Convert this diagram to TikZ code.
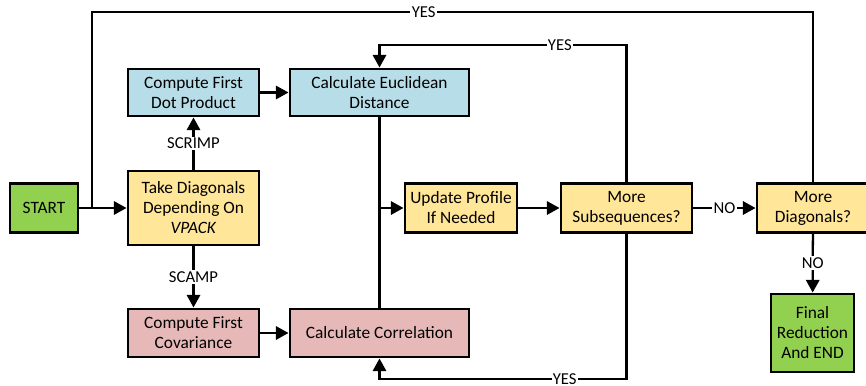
\documentclass[tikz,border=0pt]{standalone}
\usepackage{fontspec}
\setmainfont{Carlito}
\usetikzlibrary{arrows.meta}
\definecolor{dotblue}{HTML}{B7DDE8}
\definecolor{stepyellow}{HTML}{FFE699}
\definecolor{covpink}{HTML}{E6B9B8}
\definecolor{endgreen}{HTML}{92D050}

\begin{document}
\begin{tikzpicture}[x=0.75pt, y=-0.75pt,
  box/.style = {shape=rectangle, draw, line width=2.2pt, align=center,
    inner sep=0pt, font=\fontsize{13}{15}\selectfont},
  link/.style = {line width=1.7pt, -{Triangle[length=9.5pt,width=10pt]}},
  wire/.style = {line width=1.7pt},
  lbl/.style = {fill=white, inner sep=1pt, font=\fontsize{12.5}{15}\selectfont}]
  \clip (0,0) rectangle (866,385);
  \node[box, fill=endgreen, minimum width=51pt, minimum height=36.75pt] (start) at (44,208) {START};
  \node[box, fill=stepyellow, minimum width=98.25pt, minimum height=55.5pt] (take) at (193.5,208) {Take Diagonals\\Depending On\\\textit{VPACK}};
  \node[box, fill=dotblue, minimum width=98.25pt, minimum height=35.25pt] (dot) at (193.5,92.5) {Compute First\\Dot Product};
  \node[box, fill=dotblue, minimum width=134.25pt, minimum height=35.25pt] (eucl) at (379.5,92.5) {Calculate Euclidean\\Distance};
  \node[box, fill=covpink, minimum width=98.25pt, minimum height=36pt] (cov) at (193.5,333) {Compute First\\Covariance};
  \node[box, fill=covpink, minimum width=134.25pt, minimum height=36pt] (corr) at (379.5,333) {Calculate Correlation};
  \node[box, fill=stepyellow, minimum width=84pt, minimum height=36.75pt] (upd) at (461,208) {Update Profile\\If Needed};
  \node[box, fill=stepyellow, minimum width=98.25pt, minimum height=36.75pt] (subs) at (626.5,208) {More\\Subsequences?};
  \node[box, fill=stepyellow, minimum width=84pt, minimum height=36.75pt] (diag) at (813,208) {More\\Diagonals?};
  \node[box, fill=endgreen, minimum width=62.25pt, minimum height=58.5pt] (final) at (812.5,333) {Final\\Reduction\\And END};

  \coordinate (split) at (92,208);
  \coordinate (topleft) at (92,12);
  \coordinate (topright) at (813,12);
  \coordinate (merge) at (379.5,208);
  \coordinate (upright) at (626.5,45);
  \coordinate (upleft) at (379.5,45);
  \coordinate (downright) at (626.5,379);
  \coordinate (downleft) at (379.5,379);

  \draw[link] (start) -- (take);
  \draw[wire] (split) -- (topleft) -- node[lbl, pos=0.46] {YES} (topright) -- (diag.north);
  \draw[link] (take) -- node[lbl] {SCRIMP} (dot);
  \draw[link] (take) -- node[lbl] {SCAMP} (cov);
  \draw[link] (dot) -- (eucl);
  \draw[link] (cov) -- (corr);
  \draw[wire] (eucl) -- (corr);
  \draw[link] (merge) -- (upd);
  \draw[link] (upd) -- (subs);
  \draw[link] (subs.north) -- (upright) -- node[lbl, pos=0.27] {YES} (upleft) -- (eucl.north);
  \draw[link] (subs.south) -- (downright) -- node[lbl, pos=0.25] {YES} (downleft) -- (corr.south);
  \draw[link] (subs) -- node[lbl] {NO} (diag);
  \draw[link] (diag) -- node[lbl] {NO} (final);
\end{tikzpicture}
\end{document}
